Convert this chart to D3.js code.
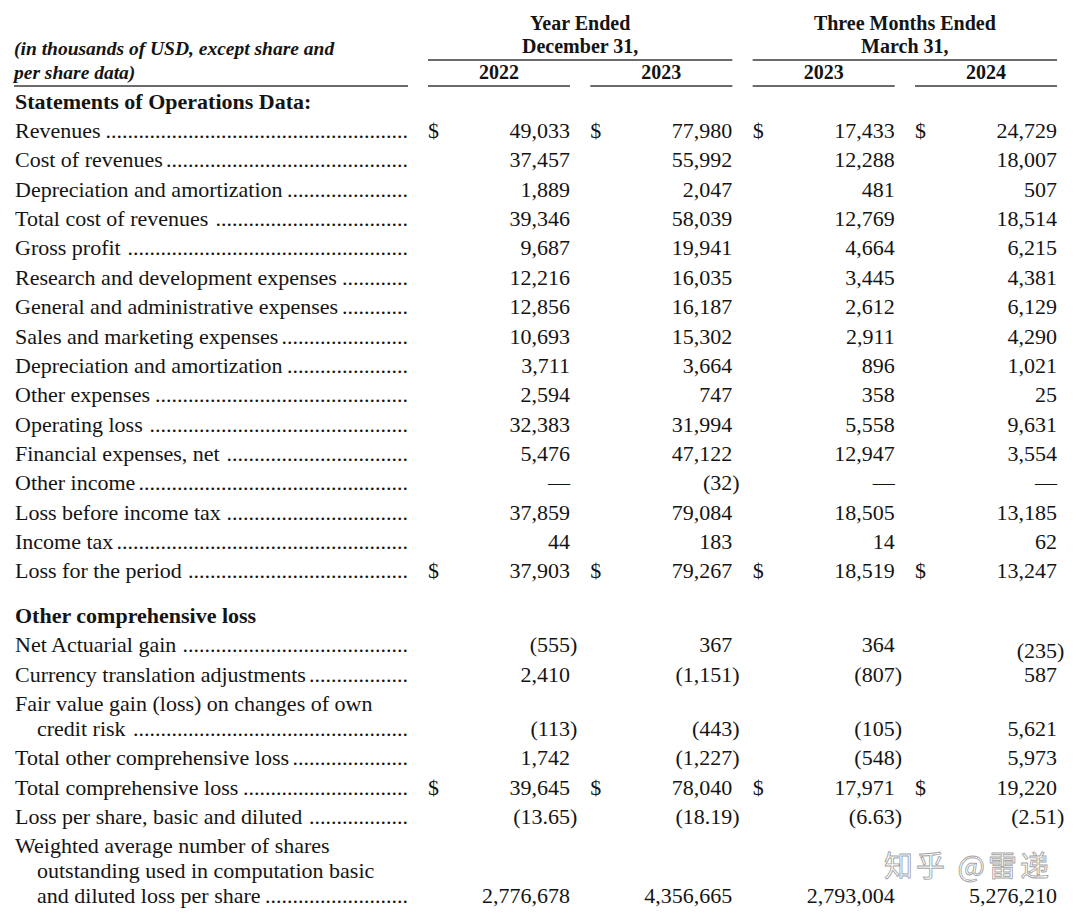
<!DOCTYPE html>
<html>
<head>
<meta charset="utf-8">
<script src="https://cdn.jsdelivr.net/npm/d3@7/dist/d3.min.js"></script>
<style>
  html, body { margin: 0; padding: 0; background: #fff; }
  svg { display: block; }
  text { font-family: "Liberation Serif", "Times New Roman", serif; fill: #141414; }
</style>
</head>
<body>
<svg id="chart" width="1080" height="922"></svg>
<script>
// ---------- data ----------
const groupHeaders = [["Year Ended", "December 31,"], ["Three Months Ended", "March 31,"]];
const columnYears = ["2022", "2023", "2023", "2024"];
const unitNote = ["(in thousands of USD, except share and", "per share data)"];

const rowLabels = [
  ["Statements of Operations Data:"],
  ["Revenues"],
  ["Cost of revenues"],
  ["Depreciation and amortization"],
  ["Total cost of revenues"],
  ["Gross profit"],
  ["Research and development expenses"],
  ["General and administrative expenses"],
  ["Sales and marketing expenses"],
  ["Depreciation and amortization"],
  ["Other expenses"],
  ["Operating loss"],
  ["Financial expenses, net"],
  ["Other income"],
  ["Loss before income tax"],
  ["Income tax"],
  ["Loss for the period"],
  ["Other comprehensive loss"],
  ["Net Actuarial gain"],
  ["Currency translation adjustments"],
  ["Fair value gain (loss) on changes of own", "credit risk"],
  ["Total other comprehensive loss"],
  ["Total comprehensive loss"],
  ["Loss per share, basic and diluted"],
  ["Weighted average number of shares", "outstanding used in computation basic", "and diluted loss per share"]
];
const rowKinds = ["section","row","row","row","row","row","row","row","row","row","row","row","row","row","row","row","row",
                  "section2","row","row","row","row","row","row","row"];
const dollarRows = [false,true,false,false,false,false,false,false,false,false,false,false,false,false,false,false,true,
                    false,false,false,false,false,true,false,false];

const values2022 = [null,"49,033","37,457","1,889","39,346","9,687","12,216","12,856","10,693","3,711","2,594","32,383","5,476","—","37,859","44","37,903",
                    null,"(555)","2,410","(113)","1,742","39,645","(13.65)","2,776,678"];
const values2023 = [null,"77,980","55,992","2,047","58,039","19,941","16,035","16,187","15,302","3,664","747","31,994","47,122","(32)","79,084","183","79,267",
                    null,"367","(1,151)","(443)","(1,227)","78,040","(18.19)","4,356,665"];
const valuesQ2023 = [null,"17,433","12,288","481","12,769","4,664","3,445","2,612","2,911","896","358","5,558","12,947","—","18,505","14","18,519",
                    null,"364","(807)","(105)","(548)","17,971","(6.63)","2,793,004"];
const valuesQ2024 = [null,"24,729","18,007","507","18,514","6,215","4,381","6,129","4,290","1,021","25","9,631","3,554","—","13,185","62","13,247",
                    null,"(235)","587","5,621","5,973","19,220","(2.51)","5,276,210"];
const watermark = "知乎 @雷递";

// ---------- layout ----------
const svg = d3.select("#chart");
svg.append("rect").attr("width", 1080).attr("height", 922).attr("fill", "#fff");

const FS = 22;
const leftX = 15, leaderEnd = 408;
const columns = [values2022, values2023, valuesQ2023, valuesQ2024];

const x = d3.scaleBand().domain(d3.range(4)).range([428, 1057]).paddingInner(0.125).paddingOuter(0);

const rowStep = 29.35, wrapStep = 25, sectionGap = 44.5;
const rowsY = [];
const lastY = [];
let cursor = 0;
rowLabels.forEach((lines, i) => {
  if (i > 0) cursor += (rowKinds[i] === "section2") ? sectionGap : rowStep;
  rowsY.push(cursor);
  cursor += wrapStep * (lines.length - 1);
  lastY.push(cursor);
});
const y = d3.scaleLinear().domain([0, 1]).range([101, 102]);

// ---------- header ----------
const hdr = svg.append("g");
const stroke = "#3a3a3a";
[[0, 1], [2, 3]].forEach((pair, gi) => {
  const x0 = x(pair[0]), x1 = x(pair[1]) + x.bandwidth();
  const cx = (x0 + x1) / 2;
  groupHeaders[gi].forEach((t, li) => {
    hdr.append("text").attr("x", cx).attr("y", 23 + li * 23).attr("dy", "0.35em")
      .attr("text-anchor", "middle").attr("font-weight", "bold").attr("font-size", 20).text(t);
  });
  hdr.append("line").attr("x1", x0).attr("x2", x1).attr("y1", 60).attr("y2", 60)
    .attr("stroke", stroke).attr("stroke-width", 1.4);
});
columnYears.forEach((yr, ci) => {
  const x0 = x(ci), x1 = x(ci) + x.bandwidth();
  hdr.append("text").attr("x", (x0 + x1) / 2).attr("y", 72).attr("dy", "0.35em")
    .attr("text-anchor", "middle").attr("font-weight", "bold").attr("font-size", 20).text(yr);
  hdr.append("line").attr("x1", x0).attr("x2", x1).attr("y1", 86).attr("y2", 86)
    .attr("stroke", stroke).attr("stroke-width", 1.4);
});
unitNote.forEach((t, li) => {
  hdr.append("text").attr("x", 14).attr("y", 48 + li * 24).attr("dy", "0.35em")
    .attr("font-weight", "bold").attr("font-style", "italic").attr("font-size", 19.5).text(t);
});
hdr.append("line").attr("x1", 14).attr("x2", leaderEnd).attr("y1", 86).attr("y2", 86)
  .attr("stroke", stroke).attr("stroke-width", 1.4);

// ---------- body ----------
const body = svg.append("g");
rowLabels.forEach((lines, i) => {
  const kind = rowKinds[i];
  lines.forEach((t, li) => {
    const ty = y(rowsY[i] + li * wrapStep);
    const lx = li === 0 ? leftX : leftX + 22;
    const txt = body.append("text")
      .attr("x", lx).attr("y", ty).attr("dy", "0.35em")
      .attr("font-size", FS)
      .attr("font-weight", kind === "row" ? null : "bold")
      .text(t);
    if (kind === "row" && li === lines.length - 1) {
      const w = txt.node().getComputedTextLength();
      const startX = lx + w + 3;
      const dotW = FS * 0.25;
      const n = Math.max(0, Math.floor((leaderEnd - startX) / dotW));
      body.append("text").attr("x", leaderEnd).attr("y", ty).attr("dy", "0.35em")
        .attr("text-anchor", "end").attr("font-size", FS).text(".".repeat(n));
    }
  });
  if (kind !== "row") return;
  const vy = y(lastY[i]);
  columns.forEach((col, ci) => {
    const v = col[i];
    if (v == null) return;
    if (dollarRows[i]) {
      body.append("text").attr("x", x(ci)).attr("y", vy).attr("dy", "0.35em")
        .attr("font-size", FS).text("$");
    }
    const right = x(ci) + x.bandwidth();
    const hang = v.startsWith("(") ? FS * 0.333 : 0;
    // (235) in the last column is printed slightly lower in the source
    const shift = (ci === 3 && i === 18) ? 6 : 0;
    body.append("text").attr("x", right + hang).attr("y", vy + shift).attr("dy", "0.35em")
      .attr("text-anchor", "end").attr("font-size", FS).text(v);
  });
});

// ---------- watermark ----------
svg.append("text").attr("x", 884).attr("y", 867).attr("dy", "0.35em")
  .style("font-family", "'Noto Sans CJK SC', sans-serif")
  .attr("font-size", 29).attr("letter-spacing", 3)
  .style("fill", "#ffffff").attr("fill-opacity", 0.75)
  .attr("stroke", "#8a8a8a").attr("stroke-width", 0.9).attr("stroke-opacity", 0.8)
  .text(watermark);
</script>
</body>
</html>
